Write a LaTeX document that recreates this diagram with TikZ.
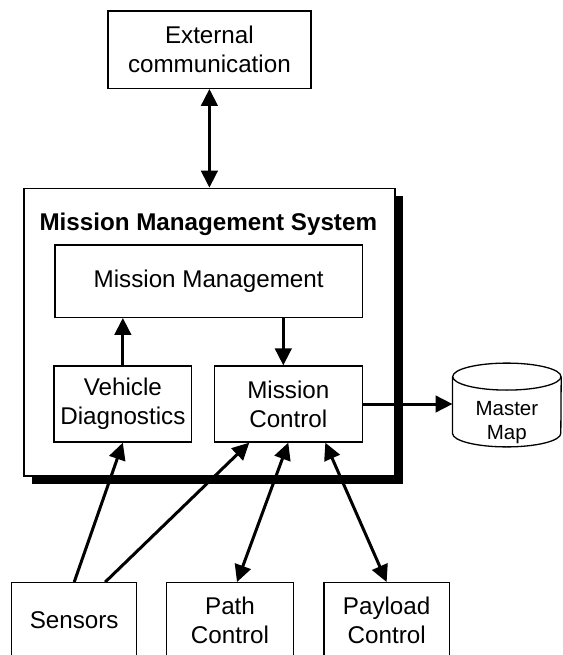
\documentclass[tikz,border=0pt]{standalone}
\usepackage{fontspec}
\setmainfont{Liberation Sans}
\usetikzlibrary{arrows.meta,shadows}
\tikzset{
  box/.style={draw=black, line width=1.3pt, fill=white, inner sep=0pt, align=center,
    font=\fontsize{24.2}{29}\selectfont},
  tip/.style={Triangle[length=17pt,width=16.5pt]},
  arr/.style={line width=3pt, arrows={-Triangle[length=17pt,width=16.5pt]}},
  darr/.style={line width=3pt, arrows={Triangle[length=17pt,width=16.5pt]-Triangle[length=17pt,width=16.5pt]}},
}
\begin{document}
\begin{tikzpicture}[x=1pt,y=-1pt]
\useasboundingbox (0,0) rectangle (562,655);
\fill[white] (0,0) rectangle (562,655);
\clip (0,0) rectangle (562,655);

\node[box, minimum width=203pt, minimum height=77.3pt] (ext) at (209.4,49.65) {External\\communication};

\node[box, minimum width=371pt, minimum height=287.7pt,
  drop shadow={shadow xshift=7.5pt, shadow yshift=-7.5pt, fill=black, opacity=1}] (mms) at (209.5,332.15) {};
\node[anchor=base west, inner sep=0pt, font=\fontsize{24.2}{29}\selectfont\bfseries] (title) at (39.3,230.4) {Mission Management System};

\node[box, minimum width=307.3pt, minimum height=72.3pt] (mm) at (208.65,281.15) {Mission Management};
\node[box, minimum width=137.7pt, minimum height=76pt] (vd) at (122.85,404) {Vehicle\\Diagnostics};
\node[box, minimum width=148pt, minimum height=76pt] (mc) at (288.3,404) {Mission\\Control};

% Master Map cylinder
\node[inner sep=0pt, minimum width=108.3pt, minimum height=83.4pt] (map) at (506.85,405) {};
\draw[line width=1.3pt, fill=white]
  ([yshift=-13.5pt]map.north west) -- ([yshift=13.5pt]map.south west)
  arc[start angle=180, end angle=360, x radius=54.15pt, y radius=13.5pt]
  -- ([yshift=-13.5pt]map.north east);
\draw[line width=1.3pt, fill=white] ([yshift=-13.5pt]map.north) ellipse [x radius=54.15pt, y radius=13.5pt];
\node[inner sep=0pt, align=center, font=\fontsize{20.5}{24}\selectfont] (maptext) at (506.85,422.5) {Master\\Map};

\node[box, minimum width=125pt, minimum height=75.3pt] (sens) at (74.2,620.35) {Sensors};
\node[box, minimum width=126.6pt, minimum height=75.3pt] (path) at (230,620.35) {Path\\Control};
\node[box, minimum width=125.3pt, minimum height=75.3pt] (pay) at (386.65,620.35) {Payload\\Control};

\coordinate (mmc) at ([xshift=-5pt]mc.north);
\coordinate (s2) at ([xshift=31pt]sens.north);
\coordinate (mcl) at ([xshift=-39pt]mc.south);
\coordinate (mcr) at ([xshift=37pt]mc.south);
\coordinate (pathn) at ([xshift=7pt]path.north);

\draw[darr] (ext.south) -- (ext.south |- mms.north);
\draw[arr] (vd.north) -- (vd.north |- mm.south);
\draw[arr] (mmc |- mm.south) -- (mmc);
\draw[arr] (sens.north) -- (vd.south);
\draw[arr] (s2) -- (mcl);
\draw[darr] (mc.south) -- (pathn);
\draw[darr] (mcr) -- (pay.north);
\draw[arr] (mc.east) -- (mc.east -| map.west);
\end{tikzpicture}
\end{document}
